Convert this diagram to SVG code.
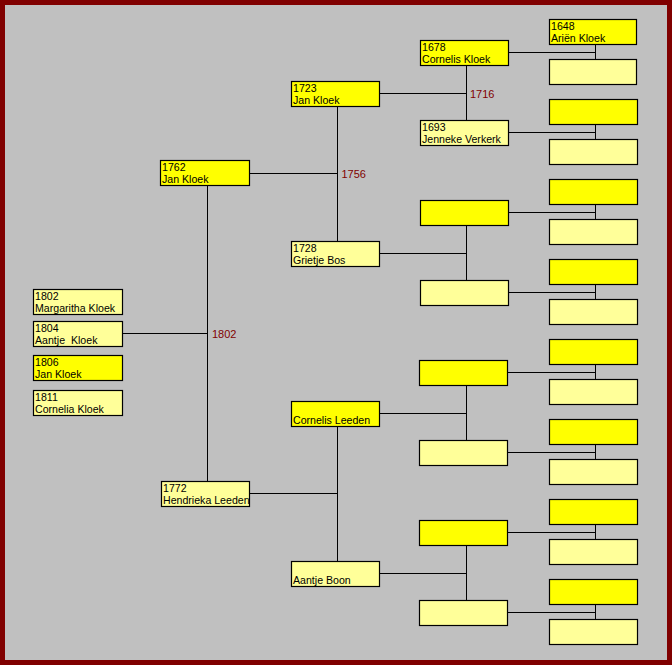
<svg xmlns="http://www.w3.org/2000/svg" width="672" height="665" viewBox="0 0 672 665">
<style>
.b{stroke:#000;stroke-width:1.2}
.y{fill:#FFFF00}
.l{fill:#FFFF99}
text{font-family:"Liberation Sans",Arial,sans-serif;font-size:10.6px;fill:#000;white-space:pre}
.lbl{fill:#800000;font-size:11px}
.c{stroke:#000;stroke-width:1;fill:none}
</style>
<rect x="0" y="0" width="672" height="665" fill="#800000"/>
<rect x="5" y="5" width="662" height="655" fill="#C0C0C0"/>
<g id="connectors" class="c">
<path d="M122 333.5H207.5M207.5 185V481"/>
<path d="M250 173.5H337.5M250 493.5H337.5M337.5 106V241M337.5 426V561"/>
<path d="M380 93.5H466.5M380 253.5H466.5M380 413.5H466.5M380 573.5H466.5M466.5 65V120M466.5 225V280M466.5 385V440M466.5 545V600"/>
<path d="M508 52.5H595.5M508 132.5H595.5M508 212.5H595.5M508 292.5H595.5M508 372.5H595.5M508 452.5H595.5M508 532.5H595.5M508 612.5H595.5"/>
<path d="M595.5 44V59M595.5 124V139M595.5 204V219M595.5 284V299M595.5 364V379M595.5 444V459M595.5 524V539M595.5 604V619"/>
</g>
<g id="labels">
<text class="lbl" x="212" y="337.5">1802</text>
<text class="lbl" x="341.5" y="177.5">1756</text>
<text class="lbl" x="470" y="97.5">1716</text>
</g>
<g id="c1802"><rect class="b l" x="33.5" y="289.5" width="89" height="25"/><text x="35" y="300">1802</text><text x="35" y="312">Margaritha Kloek</text></g>
<g id="c1804"><rect class="b l" x="33.5" y="321.5" width="89" height="25"/><text x="35" y="332">1804</text><text x="35" y="344">Aantje  Kloek</text></g>
<g id="c1806"><rect class="b y" x="33.5" y="355.5" width="89" height="25"/><text x="35" y="366">1806</text><text x="35" y="378">Jan Kloek</text></g>
<g id="c1811"><rect class="b l" x="33.5" y="390.5" width="89" height="25"/><text x="35" y="401">1811</text><text x="35" y="413">Cornelia Kloek</text></g>
<g id="p1762"><rect class="b y" x="160.5" y="160.5" width="89" height="25"/><text x="162" y="171">1762</text><text x="162" y="183">Jan Kloek</text></g>
<g id="p1772"><rect class="b l" x="161.5" y="481.5" width="88" height="25"/><text x="163" y="492">1772</text><text x="163" y="504">Hendrieka Leeden</text></g>
<g id="g1723"><rect class="b y" x="291.5" y="81.5" width="88" height="25"/><text x="293" y="92">1723</text><text x="293" y="104">Jan Kloek</text></g>
<g id="g1728"><rect class="b l" x="291.5" y="241.5" width="88" height="25"/><text x="293" y="252">1728</text><text x="293" y="264">Grietje Bos</text></g>
<g id="gCL"><rect class="b y" x="291.5" y="401.5" width="88" height="25"/><text x="293" y="424">Cornelis Leeden</text></g>
<g id="gAB"><rect class="b l" x="291.5" y="561.5" width="88" height="25"/><text x="293" y="584">Aantje Boon</text></g>
<g id="h1678"><rect class="b y" x="420.5" y="40.5" width="88" height="25"/><text x="422" y="51">1678</text><text x="422" y="63">Cornelis Kloek</text></g>
<g id="h1693"><rect class="b l" x="420.5" y="120.5" width="88" height="25"/><text x="422" y="131">1693</text><text x="422" y="143">Jenneke Verkerk</text></g>
<g id="h3"><rect class="b y" x="420.5" y="200.5" width="88" height="25"/></g>
<g id="h4"><rect class="b l" x="420.5" y="280.5" width="88" height="25"/></g>
<g id="h5"><rect class="b y" x="419.5" y="360.5" width="88" height="25"/></g>
<g id="h6"><rect class="b l" x="419.5" y="440.5" width="88" height="25"/></g>
<g id="h7"><rect class="b y" x="419.5" y="520.5" width="88" height="25"/></g>
<g id="h8"><rect class="b l" x="419.5" y="600.5" width="88" height="25"/></g>
<g id="r1648"><rect class="b y" x="549.5" y="19.5" width="87" height="25"/><text x="551" y="30">1648</text><text x="551" y="42">Ariën Kloek</text></g>
<g id="r2"><rect class="b l" x="549.5" y="59.5" width="87" height="25"/></g>
<g id="r3"><rect class="b y" x="549.5" y="99.5" width="88" height="25"/></g>
<g id="r4"><rect class="b l" x="549.5" y="139.5" width="88" height="25"/></g>
<g id="r5"><rect class="b y" x="549.5" y="179.5" width="88" height="25"/></g>
<g id="r6"><rect class="b l" x="549.5" y="219.5" width="88" height="25"/></g>
<g id="r7"><rect class="b y" x="549.5" y="259.5" width="88" height="25"/></g>
<g id="r8"><rect class="b l" x="549.5" y="299.5" width="88" height="25"/></g>
<g id="r9"><rect class="b y" x="549.5" y="339.5" width="88" height="25"/></g>
<g id="r10"><rect class="b l" x="549.5" y="379.5" width="88" height="25"/></g>
<g id="r11"><rect class="b y" x="549.5" y="419.5" width="88" height="25"/></g>
<g id="r12"><rect class="b l" x="549.5" y="459.5" width="88" height="25"/></g>
<g id="r13"><rect class="b y" x="549.5" y="499.5" width="88" height="25"/></g>
<g id="r14"><rect class="b l" x="549.5" y="539.5" width="88" height="25"/></g>
<g id="r15"><rect class="b y" x="549.5" y="579.5" width="88" height="25"/></g>
<g id="r16"><rect class="b l" x="549.5" y="619.5" width="88" height="25"/></g>
</svg>
